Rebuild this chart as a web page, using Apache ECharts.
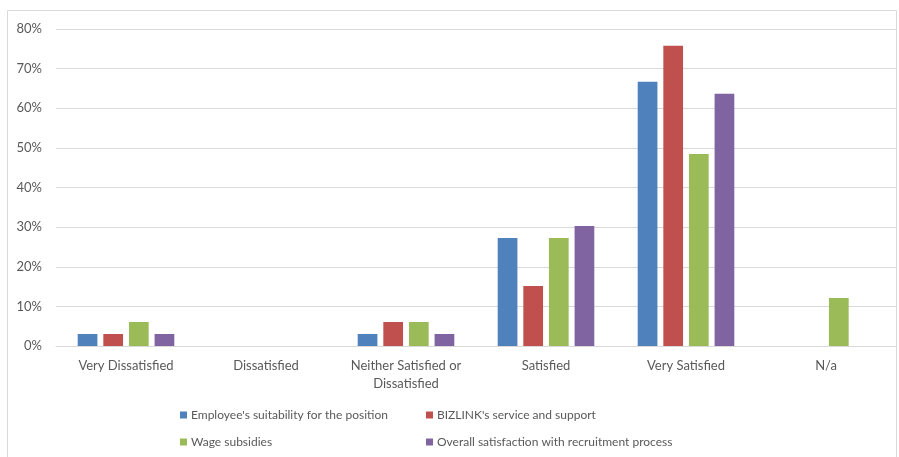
<!DOCTYPE html>
<html>
<head>
<meta charset="utf-8">
<script src="https://cdn.jsdelivr.net/npm/echarts@6/dist/echarts.min.js"></script>
<style>
  html, body { margin: 0; padding: 0; background: #fff; }
  #chart { width: 899px; height: 457px; }
</style>
</head>
<body>
<div id="chart"></div>
<script>
// Survey responses (33 respondents), shown as percentages
const categories = ['Very Dissatisfied', 'Dissatisfied', 'Neither Satisfied or\nDissatisfied', 'Satisfied', 'Very Satisfied', 'N/a'];
const seriesNames = [
  "Employee's suitability for the position",
  "BIZLINK's service and support",
  'Wage subsidies',
  'Overall satisfaction with recruitment process'
];
const suitability = [3.03, 0, 3.03, 27.27, 66.67, 0];
const serviceSupport = [3.03, 0, 6.06, 15.15, 75.76, 0];
const wageSubsidies = [6.06, 0, 6.06, 27.27, 48.48, 12.12];
const overall = [3.03, 0, 3.03, 30.30, 63.64, 0];
const yTicks = [0, 10, 20, 30, 40, 50, 60, 70, 80];

const colors = ['#4F81BD', '#C0504D', '#9BBB59', '#8064A2'];
const values = [suitability, serviceSupport, wageSubsidies, overall];
const font = 'Lato, "Open Sans", "Liberation Sans", sans-serif';

const chart = echarts.init(document.getElementById('chart'), null, { renderer: 'canvas' });

const legendPos = [
  { left: 180, top: 409 },
  { left: 426, top: 409 },
  { left: 180, top: 436 },
  { left: 426, top: 436 }
];

chart.setOption({
  animation: false,
  textStyle: { fontFamily: font },
  graphic: [{
    type: 'rect',
    shape: { x: 7.5, y: 10.5, width: 889, height: 450 },
    style: { fill: 'none', stroke: '#d9d9d9', lineWidth: 1 },
    silent: true
  }],
  legend: seriesNames.map((name, i) => ({
    data: [name],
    left: legendPos[i].left,
    top: legendPos[i].top,
    icon: 'rect',
    itemWidth: 7,
    itemHeight: 7,
    itemGap: 0,
    padding: 0,
    textStyle: { color: '#595959', fontSize: 12, fontFamily: font, padding: [0, 0, 0, -1] }
  })),
  grid: { left: 56, right: 3, top: 29, bottom: 111, containLabel: false },
  xAxis: {
    type: 'category',
    data: categories,
    axisLine: { lineStyle: { color: '#d9d9d9' } },
    axisTick: { show: false },
    axisLabel: { color: '#595959', fontSize: 13, margin: 11, lineHeight: 18, interval: 0 }
  },
  yAxis: {
    type: 'value',
    min: yTicks[0],
    max: yTicks[yTicks.length - 1],
    interval: 10,
    axisLine: { show: false },
    axisTick: { show: false },
    splitLine: { lineStyle: { color: '#d9d9d9', width: 1 } },
    axisLabel: { color: '#595959', fontSize: 13, margin: 14, formatter: v => v + '%' }
  },
  series: seriesNames.map((name, i) => ({
    name: name,
    type: 'bar',
    data: values[i],
    barGap: '30%',
    barCategoryGap: '31%',
    itemStyle: { color: colors[i] }
  }))
});
</script>
</body>
</html>
